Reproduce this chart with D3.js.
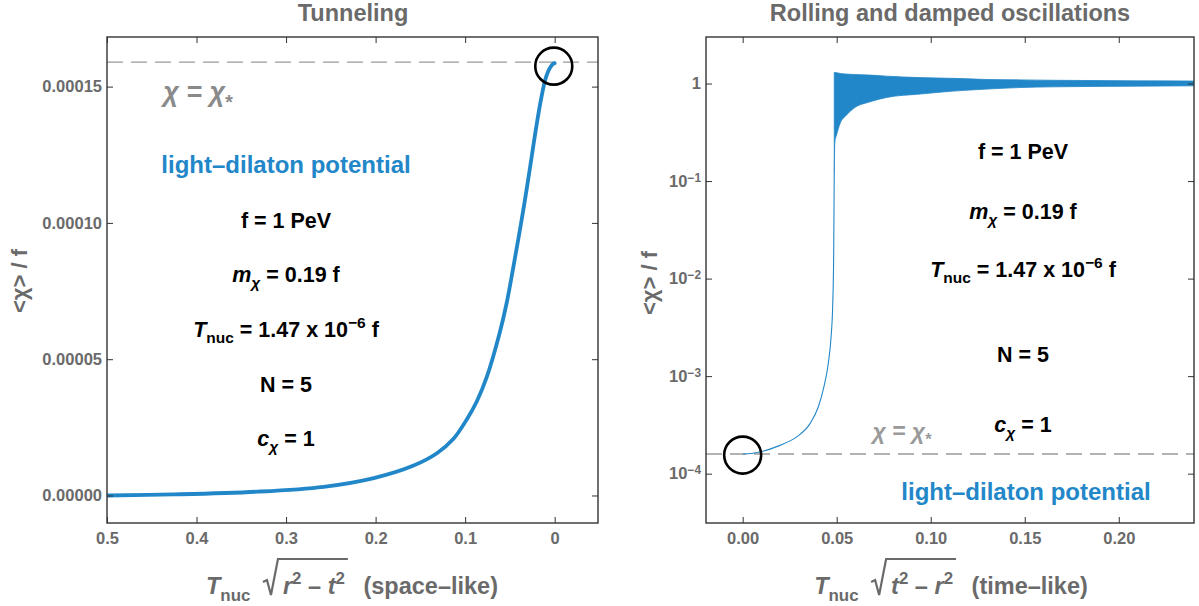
<!DOCTYPE html>
<html>
<head>
<meta charset="utf-8">
<script src="https://cdn.jsdelivr.net/npm/d3@7"></script>
<style>
    body { margin: 0; background: #fff; }
    text { font-family: "Liberation Sans", Arial, sans-serif; }
</style>
</head>
<body>
<div id="chart"></div>
<script>
// ---- data ----
// left panel: tunneling profile, <chi>/f vs T_nuc sqrt(r^2 - t^2)
const tunnelX = [0.5, 0.425, 0.332, 0.258, 0.202, 0.1575, 0.1315, 0.113, 0.098, 0.087, 0.0758,
    0.0613, 0.0535, 0.0468, 0.0401, 0.0334, 0.0279, 0.0223, 0.016, 0.011, 0.008, 0.005, 0.002, 0];
const tunnelY = [0, 0.0000004, 0.0000014, 0.0000032, 0.0000064, 0.000011, 0.0000155, 0.0000208,
    0.000028, 0.0000345, 0.0000435, 0.0000598, 0.0000708, 0.0000826, 0.000095, 0.000108,
    0.0001195, 0.0001316, 0.000144, 0.000152, 0.000155, 0.000157, 0.0001583, 0.0001586];

// right panel: rolling part (thin line)
const rollX = [0, 0.0092, 0.0198, 0.0287, 0.0358, 0.0402, 0.0432, 0.0455, 0.047, 0.0479, 0.0484, 0.0487];
const rollY = [0.000159, 0.000167, 0.000195, 0.000238, 0.000326, 0.000483, 0.000775, 0.00134,
    0.00252, 0.0055, 0.018, 0.12];

// right panel: damped oscillations (envelope of the fast oscillation)
const bandX = [0.0487, 0.049, 0.05, 0.0518, 0.055, 0.0587, 0.0677, 0.0766, 0.0943, 0.1119,
    0.1298, 0.1475, 0.1651, 0.2096, 0.24];
const bandHigh = [1.30, 1.30, 1.29, 1.27, 1.25, 1.24, 1.22, 1.19, 1.15, 1.13, 1.10, 1.09, 1.08, 1.065, 1.06];
const bandLow = [0.12, 0.25, 0.30, 0.39, 0.47, 0.55, 0.65, 0.72, 0.78, 0.836, 0.877, 0.91, 0.925, 0.94, 0.947];

const chiStar = 0.000159;

// ticks
const leftXTicks = [0.5, 0.4, 0.3, 0.2, 0.1, 0];
const leftYTicks = [0, 0.00005, 0.0001, 0.00015];
const rightXTicks = [0, 0.05, 0.1, 0.15, 0.2];
const rightYTicks = [1e-4, 1e-3, 1e-2, 1e-1, 1];

// ---- layout ----
const svgWidth = 1199, svgHeight = 606;
const blue = "#2287c8", gray = "#6a6a6a", frameColor = "#333";

const svg = d3.select("#chart").append("svg")
    .attr("width", svgWidth)
    .attr("height", svgHeight);
svg.append("rect").attr("width", svgWidth).attr("height", svgHeight).attr("fill", "#fff");

const left = {x0: 107, x1: 598, y0: 37, y1: 523};
const right = {x0: 706, x1: 1194, y0: 37, y1: 523};

const xL = d3.scaleLinear().domain([0.5, -0.0484]).range([left.x0, left.x1]);
const yL = d3.scaleLinear().domain([-1.009e-5, 1.682e-4]).range([left.y1, left.y0]);
const xR = d3.scaleLinear().domain([-0.0195, 0.24]).range([right.x0, right.x1]);
const yR = d3.scaleLog().domain([3.12e-5, 3.0]).range([right.y1, right.y0]);

// draw a text built from styled pieces (sub / sup / italic)
function rich(g, x, y, parts, opts) {
    const size = opts.size;
    const t = g.append("text")
        .attr("x", x).attr("y", y)
        .attr("text-anchor", opts.anchor || "middle")
        .attr("font-size", size)
        .attr("font-weight", "bold")
        .attr("fill", opts.color);
    let shift = 0;
    const spans = [];
    parts.forEach(p => {
        const target = p.sub ? 0.28 * size : p.sup ? -0.42 * size : 0;
        const s = t.append("tspan").text(p.t).attr("dy", target - shift);
        shift = target;
        if (p.sub || p.sup) s.attr("font-size", size * 0.72);
        if (p.i) s.attr("font-style", "italic");
        if (p.dx) s.attr("dx", p.dx);
        spans.push({node: s.node(), p: p});
    });
    return {text: t, spans: spans};
}

// frame with inward ticks on all sides
function frame(box, xs, ys, xMajor, xMinor, yMajor, yMinor, xFmt, yFmt) {
    const g = svg.append("g");
    const w = box.x1 - box.x0, h = box.y1 - box.y0;

    const bottom = g.append("g").attr("transform", `translate(0,${box.y1})`);
    bottom.call(d3.axisBottom(xs).tickValues(xMinor).tickSize(-3).tickFormat(""));
    bottom.call(d3.axisBottom(xs).tickValues(xMajor).tickSize(-6).tickPadding(9).tickFormat(xFmt));

    const top = g.append("g").attr("transform", `translate(0,${box.y0})`);
    top.call(d3.axisTop(xs).tickValues(xMinor).tickSize(-3).tickFormat(""));
    top.call(d3.axisTop(xs).tickValues(xMajor).tickSize(-6).tickFormat(""));

    const lAx = g.append("g").attr("transform", `translate(${box.x0},0)`);
    lAx.call(d3.axisLeft(ys).tickValues(yMinor).tickSize(-3).tickFormat(""));
    lAx.call(d3.axisLeft(ys).tickValues(yMajor).tickSize(-6).tickPadding(5).tickFormat(yFmt));

    const rAx = g.append("g").attr("transform", `translate(${box.x1},0)`);
    rAx.call(d3.axisRight(ys).tickValues(yMinor).tickSize(-3).tickFormat(""));
    rAx.call(d3.axisRight(ys).tickValues(yMajor).tickSize(-6).tickFormat(""));

    g.selectAll(".domain").remove();
    g.selectAll(".tick line").attr("stroke", frameColor).attr("stroke-width", 1);
    g.selectAll(".tick text")
        .attr("font-family", "Liberation Sans, Arial, sans-serif")
        .attr("font-size", 16.5).attr("font-weight", "bold").attr("fill", gray);

    g.append("rect")
        .attr("x", box.x0).attr("y", box.y0)
        .attr("width", w).attr("height", h)
        .attr("fill", "none").attr("stroke", frameColor).attr("stroke-width", 1.4);
    return {g, lAx};
}

// ================= left panel: Tunneling =================
svg.append("clipPath").attr("id", "clipL").append("rect")
    .attr("x", left.x0).attr("y", left.y0)
    .attr("width", left.x1 - left.x0).attr("height", left.y1 - left.y0);

const plotL = svg.append("g").attr("clip-path", "url(#clipL)");

plotL.append("line")
    .attr("x1", left.x0).attr("x2", left.x1)
    .attr("y1", yL(chiStar)).attr("y2", yL(chiStar))
    .attr("stroke", "#9a9a9a").attr("stroke-width", 1.4)
    .attr("stroke-dasharray", "16,8");

const tunnelData = tunnelX.map((x, i) => [x, tunnelY[i]]);
plotL.append("path")
    .datum(tunnelData)
    .attr("fill", "none")
    .attr("stroke", blue)
    .attr("stroke-width", 3.8)
    .attr("stroke-linecap", "round")
    .attr("d", d3.line().x(d => xL(d[0])).y(d => yL(d[1])).curve(d3.curveCatmullRom.alpha(0.5)));

svg.append("circle")
    .attr("cx", xL(0.001)).attr("cy", yL(0.0001575))
    .attr("r", 18.5)
    .attr("fill", "none").attr("stroke", "#000").attr("stroke-width", 2.6);

frame(left, xL, yL, leftXTicks, d3.range(-0.04, 0.5, 0.02).filter(v => Math.abs(v * 10 - Math.round(v * 10)) > 1e-6),
    leftYTicks, d3.range(-1, 17).map(k => k * 1e-5).filter(v => Math.abs(v / 5e-5 - Math.round(v / 5e-5)) > 1e-6),
    d => d === 0 ? "0" : d3.format(".1f")(d), d3.format(".5f"));

// ================= right panel: Rolling and damped oscillations =================
svg.append("clipPath").attr("id", "clipR").append("rect")
    .attr("x", right.x0).attr("y", right.y0)
    .attr("width", right.x1 - right.x0).attr("height", right.y1 - right.y0);
const plotR = svg.append("g").attr("clip-path", "url(#clipR)");

plotR.append("line")
    .attr("x1", right.x0).attr("x2", right.x1)
    .attr("y1", yR(chiStar)).attr("y2", yR(chiStar))
    .attr("stroke", "#9a9a9a").attr("stroke-width", 1.4)
    .attr("stroke-dasharray", "16,8");

const rollData = rollX.map((x, i) => [x, rollY[i]]);
plotR.append("path")
    .datum(rollData)
    .attr("fill", "none")
    .attr("stroke", blue)
    .attr("stroke-width", 1.1)
    .attr("d", d3.line().x(d => xR(d[0])).y(d => yR(d[1])).curve(d3.curveMonotoneX));

const bandData = bandX.map((x, i) => ({x: x, lo: bandLow[i], hi: bandHigh[i]}));
plotR.append("path")
    .datum(bandData)
    .attr("fill", blue)
    .attr("stroke", blue)
    .attr("stroke-width", 0.8)
    .attr("d", d3.area().x(d => xR(d.x)).y0(d => yR(d.lo)).y1(d => yR(d.hi)).curve(d3.curveMonotoneX));

svg.append("circle")
    .attr("cx", xR(0)).attr("cy", yR(0.000155))
    .attr("r", 18.5)
    .attr("fill", "none").attr("stroke", "#000").attr("stroke-width", 2.6);

const logMinor = [];
[-5, -4, -3, -2, -1, 0].forEach(e => {
    for (let m = 2; m <= 9; m++) {
        const v = m * Math.pow(10, e);
        if (v > 3.12e-5 && v < 3.0) logMinor.push(v);
    }
});
function notFive(v) { return Math.abs(v * 20 - Math.round(v * 20)) > 1e-6; }
const rf = frame(right, xR, yR, rightXTicks,
    d3.range(-1, 25).map(k => k / 100).filter(notFive),
    rightYTicks, logMinor, d3.format(".2f"), () => "");

// superscript labels on the log axis
rf.lAx.selectAll(".tick text").each(function(d) {
    const e = Math.round(Math.log10(d));
    const t = d3.select(this);
    if (e === 0) { t.text("1"); return; }
    t.append("tspan").text("10");
    t.append("tspan").attr("dy", "-0.45em").attr("font-size", "0.72em").text("\u2212" + (-e));
});

// ================= titles, axis labels, annotations =================
svg.append("text").attr("x", 353).attr("y", 21)
    .attr("text-anchor", "middle").attr("font-size", 23.5).attr("font-weight", "bold")
    .attr("fill", gray).text("Tunneling");
svg.append("text").attr("x", 950).attr("y", 21)
    .attr("text-anchor", "middle").attr("font-size", 23.5).attr("font-weight", "bold")
    .attr("fill", gray).text("Rolling and damped oscillations");

// y labels
[[27, 281], [657, 283]].forEach(([x, y]) => {
    svg.append("text")
        .attr("transform", `translate(${x},${y}) rotate(-90)`)
        .attr("text-anchor", "middle").attr("font-size", 22).attr("font-weight", "bold")
        .attr("fill", gray).text("<\u03c7> / f");
});

// x labels with a drawn radical
function xLabel(cx, a, b, tail) {
    const r = rich(svg, cx, 594, [
        {t: "T", i: true}, {t: "nuc", sub: true}, {t: " ", dx: 26},
        {t: a, i: true, over: true}, {t: "2", sup: true, over: true},
        {t: " \u2013 ", over: true}, {t: b, i: true, over: true}, {t: "2", sup: true, over: true},
        {t: "  " + tail, dx: 12}
    ], {size: 23.5, color: gray});
    const boxes = r.spans.filter(s => s.p.over).map(s => s.node.getBBox());
    const bx0 = d3.min(boxes, b => b.x), bx1 = d3.max(boxes, b => b.x + b.width);
    const by = 594;
    svg.append("path")
        .attr("d", `M${bx0 - 20},${by - 12} L${bx0 - 16},${by - 14} L${bx0 - 12},${by + 1} L${bx0 - 5},${by - 35} H${bx1 + 3}`)
        .attr("fill", "none").attr("stroke", gray).attr("stroke-width", 2.2)
        .attr("stroke-linejoin", "miter");
}
xLabel(352, "r", "t", "(space\u2013like)");
xLabel(951, "t", "r", "(time\u2013like)");

// annotation blocks
function annotations(cx, ys, size) {
    const lines = [
        [{t: "f = 1 PeV"}],
        [{t: "m", i: true}, {t: "\u03c7", sub: true, i: true}, {t: " = 0.19 f"}],
        [{t: "T", i: true}, {t: "nuc", sub: true}, {t: " = 1.47 x 10"}, {t: "\u22126", sup: true}, {t: " f"}],
        [{t: "N = 5"}],
        [{t: "c", i: true}, {t: "\u03c7", sub: true, i: true}, {t: " = 1"}]
    ];
    lines.forEach((parts, i) => rich(svg, cx, ys[i], parts, {size: size, color: "#000"}));
}
annotations(286, [228, 282, 337, 392, 446], 21.5);
annotations(1023, [159, 219, 277, 362, 432], 21.5);

// light-dilaton labels
svg.append("text").attr("x", 286).attr("y", 173)
    .attr("text-anchor", "middle").attr("font-size", 24).attr("font-weight", "bold")
    .attr("fill", blue).text("light\u2013dilaton potential");
svg.append("text").attr("x", 1026).attr("y", 500)
    .attr("text-anchor", "middle").attr("font-size", 24).attr("font-weight", "bold")
    .attr("fill", blue).text("light\u2013dilaton potential");

// chi = chi* labels
rich(svg, 198, 101, [{t: "\u03c7 = \u03c7", i: true}, {t: "*", sub: true}], {size: 27, color: "#8a8a8a"});
rich(svg, 902, 439, [{t: "\u03c7 = \u03c7", i: true}, {t: "*", sub: true}], {size: 23, color: "#9a9a9a"});
</script>
</body>
</html>
